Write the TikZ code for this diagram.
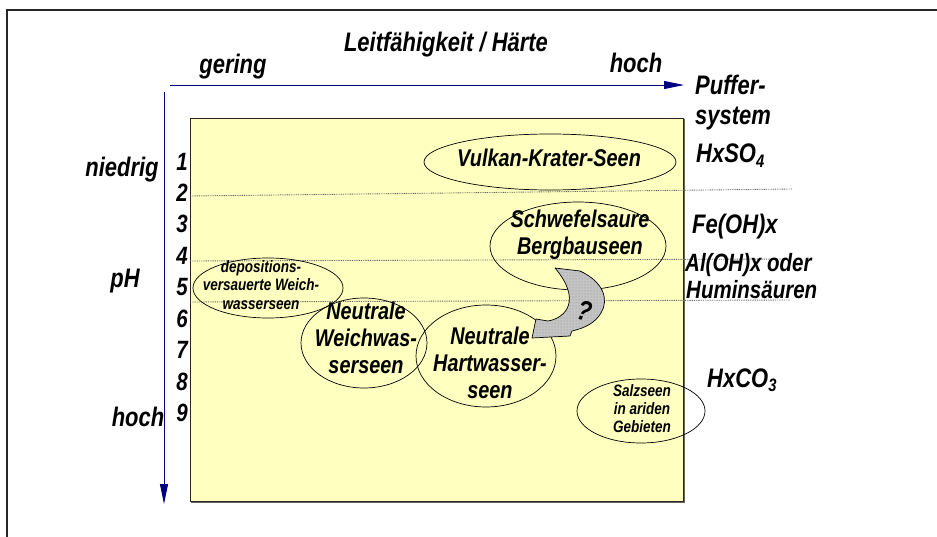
\documentclass[tikz,border=0pt]{standalone}
\usepackage{fontspec}
\setmainfont[FakeStretch=0.82]{Liberation Sans}
\usetikzlibrary{arrows.meta,patterns}
\definecolor{paneyellow}{HTML}{FFFFC0}
\definecolor{axisblue}{HTML}{000080}
\definecolor{framegray}{HTML}{262626}
\definecolor{arrowgray}{HTML}{C4C4C4}
\newcommand{\lowsub}[1]{\raisebox{-0.18em}{\fontsize{18}{18}\selectfont #1}}
\begin{document}
\begin{tikzpicture}[x=1pt,y=-1pt,
  lbl/.style={inner sep=0pt,anchor=base,font={\bfseries\itshape\fontsize{26.8}{30}\selectfont}},
  lbll/.style={lbl,anchor=base west},
  lake/.style={inner sep=0pt,anchor=base,align=center},
  bigtxt/.style={font={\bfseries\itshape\fontsize{24.2}{27}\selectfont}},
  smalltxt/.style={font={\bfseries\itshape\fontsize{16.5}{18}\selectfont}},
  num/.style={inner sep=0pt,anchor=base,font={\bfseries\itshape\fontsize{25}{25}\selectfont}},
  rim/.style={draw=black,line width=0.7pt},
  sep/.style={draw=black!60,line width=0.9pt,dash pattern=on 0.9pt off 0.9pt},
  axis/.style={draw=axisblue,line width=0.9pt,-{Triangle[length=20pt,width=8pt]}}]
\useasboundingbox (0,0) rectangle (937,537);

% outer frame (only top and left edges fall inside the page)
\draw[framegray,line width=2pt] (7,545) -- (7,10) -- (945,10);

% yellow field with its shadowed border
\fill[paneyellow] (190,118) rectangle (683,501);
\draw[black!60,line width=1.8pt] (684,119) -- (684,502) -- (191,502);
\draw[black!85,line width=0.8pt] (190,118) rectangle (683,501);

% pH class boundaries
\coordinate (s1a) at (190,196); \coordinate (s1b) at (792,189);
\coordinate (s2a) at (190,261); \coordinate (s2b) at (785,259);
\coordinate (s3a) at (190,302); \coordinate (s3b) at (790,300);
\draw[sep] (s1a) -- (s1b);
\draw[sep] (s2a) -- (s2b);
\draw[sep] (s3a) -- (s3b);

% axes
\coordinate (hx0) at (170,85);  \coordinate (hx1) at (684,85);
\coordinate (vy0) at (164,92);  \coordinate (vy1) at (164,504);
\draw[axis] (hx0) -- (hx1);
\draw[axis] (vy0) -- (vy1);

% axis texts
\node[lbl] (title) at (446,52) {Leitfähigkeit / Härte};
\node[lbl] (gering) at (233,74) {gering};
\node[lbl] (hochx) at (636,73) {hoch};
\node[lbl] (niedrig) at (122,177) {niedrig};
\node[lbl] (ph) at (125,288) {pH};
\node[lbl] (hochy) at (138,426) {hoch};

% pH scale
\foreach \v/\yy in {1/171,2/202,3/233,4/265,5/296,6/327,7/358,8/390,9/421}
  \node[num] (n\v) at (182,\yy) {\v};

% buffer systems
\node[lbll] (puffer) at (695,95) {Puffer-};
\node[lbll] (system) at (695,125) {system};
\node[lbll] (hso) at (696,163) {HxSO\lowsub{4}};
\node[lbll] (feoh) at (692,234) {Fe(OH)x};
\node[lbll,font={\bfseries\itshape\fontsize{25}{27}\selectfont}] (aloh) at (685,272) {Al(OH)x oder};
\node[lbll,font={\bfseries\itshape\fontsize{25}{27}\selectfont}] (humin) at (686,299) {Huminsäuren};
\node[lbll] (hco) at (707,387) {HxCO\lowsub{3}};

% lake types: outlines
\draw[rim] (550,162) ellipse [x radius=126, y radius=28];
\draw[rim] (578,246) ellipse [x radius=88, y radius=44];
\draw[rim] (268,288) ellipse [x radius=75, y radius=30];
\draw[rim] (364,343) ellipse [x radius=63, y radius=45];
\draw[rim] (486,356) ellipse [x radius=70, y radius=51];
\draw[rim] (641,411) ellipse [x radius=64, y radius=32];

% lake types: names (anchored at the baseline of the last line)
\node[lake,bigtxt] (vulkan) at (549,167) {Vulkan-Krater-Seen};
\node[lake,bigtxt] (schwefel) at (580,255) {Schwefelsaure\\Bergbauseen};
\node[lake,smalltxt] (depos) at (261,309) {depositions-\\versauerte Weich-\\wasserseen};
\node[lake,bigtxt] (weich) at (366,373) {Neutrale\\Weichwas-\\serseen};
\node[lake,bigtxt] (hart) at (490,398) {Neutrale\\Hartwasser-\\seen};
\node[lake,smalltxt] (salz) at (642,432) {Salzseen\\in ariden\\Gebieten};

% curved block arrow from the mining lakes towards neutral hard-water lakes
\def\bendarrow{(555,268) -- (580,271) .. controls (604,282) and (609,300) .. (601,313)
  .. controls (595,323) and (585,328) .. (572,331)
  -- (570,336) -- (532,338) -- (536,319) -- (548,321)
  .. controls (566,318) and (582,300) .. (555,268) -- cycle}
\fill[arrowgray] \bendarrow;
\fill[pattern=dots,pattern color=black!45] \bendarrow;
\draw[black,line width=0.7pt,line join=round] \bendarrow;
\node[inner sep=0pt,font={\bfseries\itshape\fontsize{28}{28}\selectfont},rotate=-15] (q) at (585,311) {?};
\end{tikzpicture}
\end{document}
